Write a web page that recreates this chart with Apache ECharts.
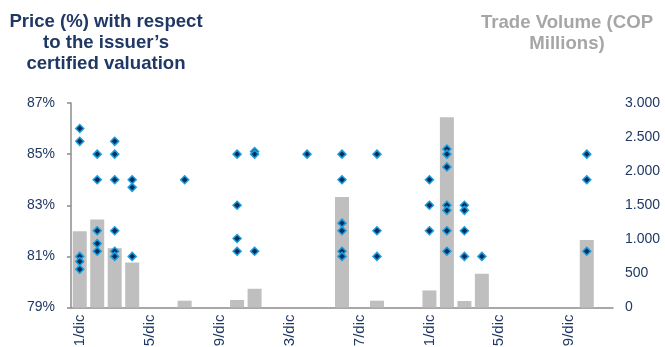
<!DOCTYPE html>
<html>
<head>
<meta charset="utf-8">
<script src="https://cdn.jsdelivr.net/npm/echarts@6/dist/echarts.min.js"></script>
<style>
html,body{margin:0;padding:0;background:#fff;}
#chart{width:665px;height:347px;}
</style>
</head>
<body>
<div id="chart"></div>
<script>
// Categories: days of December
var days = [];
for (var d = 1; d <= 31; d++) days.push(d + '/dic');

// Trade volume (COP millions), one per day (null = no trade)
var volume = [1120, 1290, 870, 660, null, null, 100, null, null, 110,
              275, null, null, null, null, 1620, null, 100, null, null,
              250, 2790, 95, 495, null, null, null, null, null, 990, null];

// Price points (%): day index (1-based) and value
var priceDay = [1,1,1,1,1,
                2,2,2,2,2,
                3,3,3,3,3,3,
                4,4,4,
                7,
                10,10,10,10,
                11,11,11,
                14,
                16,16,16,16,16,16,
                18,18,18,
                21,21,21,
                22,22,22,22,22,22,22,
                23,23,23,23,
                24,
                30,30,30];
var priceVal = [86.0,85.5,81.0,80.8,80.5,
                85.0,84.0,82.0,81.5,81.2,
                85.5,85.0,84.0,82.0,81.2,81.0,
                84.0,83.7,81.0,
                84.0,
                85.0,83.0,81.7,81.2,
                85.1,85.0,81.2,
                85.0,
                85.0,84.0,82.3,82.0,81.2,81.0,
                85.0,82.0,81.0,
                84.0,83.0,82.0,
                85.2,85.0,84.5,83.0,82.8,82.0,81.2,
                83.0,82.8,82.0,81.0,
                81.0,
                85.0,84.0,81.2];

var leftTitle = 'Price (%) with respect\nto the issuer\u2019s\ncertified valuation';
var rightTitle = 'Trade Volume (COP\nMillions)';

var navy = '#1f3864';
var fontFam = '"Liberation Sans", Arial, sans-serif';

var pricePoints = priceDay.map(function (d, i) { return [d - 1, priceVal[i]]; });

var chart = echarts.init(document.getElementById('chart'));
chart.setOption({
  animation: false,
  backgroundColor: '#fff',
  textStyle: { fontFamily: fontFam },
  graphic: [
    { type: 'text', x: 106, y: 11, style: { text: leftTitle, textAlign: 'center', fill: navy,
      font: 'bold 18.6px ' + fontFam, lineHeight: 21 } },
    { type: 'text', x: 567, y: 12, style: { text: rightTitle, textAlign: 'center', fill: '#a6a6a6',
      font: 'bold 18.6px ' + fontFam, lineHeight: 21 } }
  ],
  grid: { left: 71, right: 52, top: 103, bottom: 39.5, containLabel: false, outerBoundsMode: 'none' },
  xAxis: {
    type: 'category',
    data: days,
    boundaryGap: true,
    axisLine: { lineStyle: { color: '#8c8c8c', width: 1.5 } },
    axisTick: { interval: 3, length: 5, lineStyle: { color: '#8c8c8c', width: 1.5 } },
    axisLabel: { interval: 3, rotate: 90, margin: 7, color: navy, fontSize: 15, fontFamily: fontFam },
    splitLine: { show: false }
  },
  yAxis: [
    {
      type: 'value', min: 79, max: 87, interval: 2, position: 'left',
      axisLine: { show: true, lineStyle: { color: '#8c8c8c', width: 1.5 } },
      axisTick: { show: true, length: 4, lineStyle: { color: '#8c8c8c', width: 1.5 } },
      axisLabel: { formatter: '{value}%', color: navy, fontSize: 14, margin: 16, fontFamily: fontFam },
      splitLine: { show: false }
    },
    {
      type: 'value', min: 0, max: 3000, interval: 500, position: 'right',
      axisLine: { show: false }, axisTick: { show: false },
      axisLabel: { color: navy, fontSize: 14, margin: 12, fontFamily: fontFam,
        formatter: function (v) { return String(v).replace(/\B(?=(\d{3})+(?!\d))/g, '.'); } },
      splitLine: { show: false }
    }
  ],
  series: [
    {
      type: 'bar', yAxisIndex: 1, data: volume, barWidth: 14,
      itemStyle: { color: '#bfbfbf' }
    },
    {
      type: 'scatter', yAxisIndex: 0, data: pricePoints,
      symbol: 'diamond', symbolSize: 8,
      itemStyle: { color: '#0b2d5a', borderColor: '#1a9ee0', borderWidth: 1.5, opacity: 1 }
    }
  ]
});
</script>
</body>
</html>
